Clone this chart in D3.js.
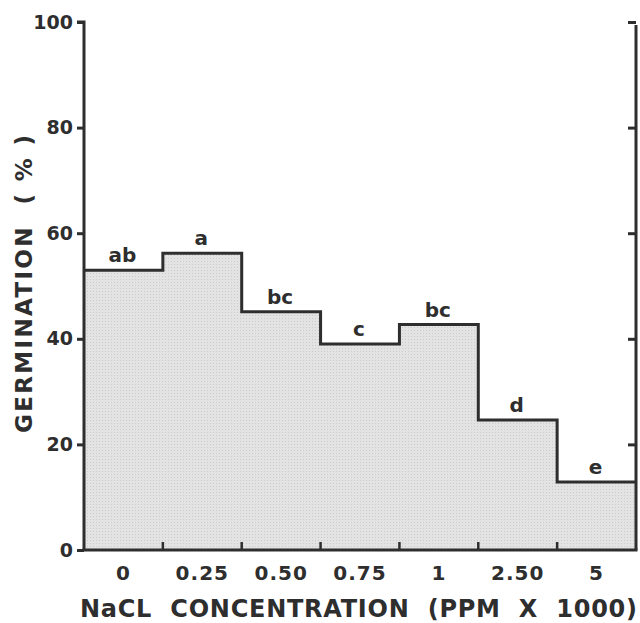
<!DOCTYPE html>
<html>
<head>
<meta charset="utf-8">
<script src="https://d3js.org/d3.v7.min.js"></script>
<style>
  body { margin: 0; background: #fff; }
  text { font-family: "DejaVu Sans", sans-serif; font-weight: bold; fill: #2e2e2e; }
  .title { white-space: pre; }
</style>
</head>
<body>
<svg width="640" height="623"></svg>
<script>
// data
var concentrations = ["0", "0.25", "0.50", "0.75", "1", "2.50", "5"];
var germination = [53, 56.2, 45.1, 39, 42.7, 24.6, 12.9];
var letters = ["ab", "a", "bc", "c", "bc", "d", "e"];
var yTicks = [0, 20, 40, 60, 80, 100];

var svg = d3.select("svg");
var mLeft = 84, mRight = 636, mTop = 22, mBottom = 550;
var ink = "#2e2e2e";
var font = "'DejaVu Sans', sans-serif";

var x = d3.scaleBand().domain(concentrations).range([mLeft, mRight]).padding(0);
var y = d3.scaleLinear().domain([0, 100]).range([mBottom, mTop]);

// dotted grey screen like the printed fill
var pat = svg.append("defs").append("pattern")
  .attr("id", "screen")
  .attr("width", 3).attr("height", 3)
  .attr("patternUnits", "userSpaceOnUse");
pat.append("rect").attr("width", 3).attr("height", 3).attr("fill", "#e3e3e3");
pat.append("rect").attr("width", 1).attr("height", 1).attr("fill", "#cacaca");

// step outline built from the bars
var pts = [[mLeft, y(0)]];
concentrations.forEach(function(c, i) {
  pts.push([x(c), y(germination[i])]);
  pts.push([x(c) + x.bandwidth(), y(germination[i])]);
});
pts.push([mRight, y(0)]);

svg.append("path")
  .attr("d", d3.line()(pts) + "Z")
  .attr("fill", "url(#screen)");

svg.append("path")
  .attr("d", d3.line()(pts.slice(1, pts.length - 1)))
  .attr("fill", "none")
  .attr("stroke", ink)
  .attr("stroke-width", 3);

// left axis
var yAxis = svg.append("g")
  .attr("transform", "translate(" + mLeft + ",0)")
  .call(d3.axisLeft(y).tickValues(yTicks).tickSize(7).tickPadding(4));
yAxis.select(".domain").attr("stroke", ink).attr("stroke-width", 3)
  .attr("d", "M-7," + mTop + "H0V" + mBottom);
yAxis.selectAll(".tick line").attr("stroke", ink).attr("stroke-width", 3);
yAxis.selectAll(".tick text").attr("font-size", 19).attr("fill", ink)
  .attr("font-family", font).attr("font-weight", "bold");

// right axis, ticks pointing in
var yAxisR = svg.append("g")
  .attr("transform", "translate(" + mRight + ",0)")
  .call(d3.axisLeft(y).tickValues(yTicks.filter(function(d) { return d > 0; })).tickSize(0).tickFormat(""));
yAxisR.select(".domain").attr("stroke", ink).attr("stroke-width", 3)
  .attr("d", "M0," + (mTop + 3) + "V" + mBottom);
yAxisR.selectAll(".tick line").attr("x2", -8).attr("stroke", ink).attr("stroke-width", 3);

// bottom axis
var xAxis = svg.append("g")
  .attr("transform", "translate(0," + mBottom + ")")
  .call(d3.axisBottom(x).tickSize(0).tickPadding(16));
xAxis.select(".domain").attr("stroke", ink).attr("stroke-width", 3)
  .attr("d", "M" + (mLeft - 1.5) + ",0H" + (mRight + 1.5));
xAxis.selectAll(".tick text").attr("font-size", 20).attr("fill", ink)
  .attr("font-family", font).attr("font-weight", "bold")
  .attr("letter-spacing", 1);

// small inward ticks at the band edges
svg.append("g").selectAll("line")
  .data(concentrations.slice(1))
  .enter().append("line")
  .attr("x1", function(d) { return x(d); })
  .attr("x2", function(d) { return x(d); })
  .attr("y1", mBottom)
  .attr("y2", mBottom - 8)
  .attr("stroke", ink)
  .attr("stroke-width", 2.5);

// significance letters
svg.append("g").selectAll("text")
  .data(concentrations)
  .enter().append("text")
  .attr("x", function(d) { return x(d) + x.bandwidth() / 2 - 1; })
  .attr("y", function(d, i) { return y(germination[i]) - 8; })
  .attr("text-anchor", "middle")
  .attr("font-size", 20)
  .text(function(d, i) { return letters[i]; });

// axis titles
svg.append("text")
  .attr("class", "title")
  .attr("x", 80)
  .attr("y", 617)
  .attr("font-size", 24)
  .attr("textLength", 557)
  .attr("lengthAdjust", "spacing")
  .text("NaCL  CONCENTRATION  (PPM  X  1000)");

svg.append("text")
  .attr("class", "title")
  .attr("transform", "translate(32,433) rotate(-90)")
  .attr("font-size", 23)
  .attr("textLength", 298)
  .attr("lengthAdjust", "spacing")
  .text("GERMINATION  ( % )");
</script>
</body>
</html>
